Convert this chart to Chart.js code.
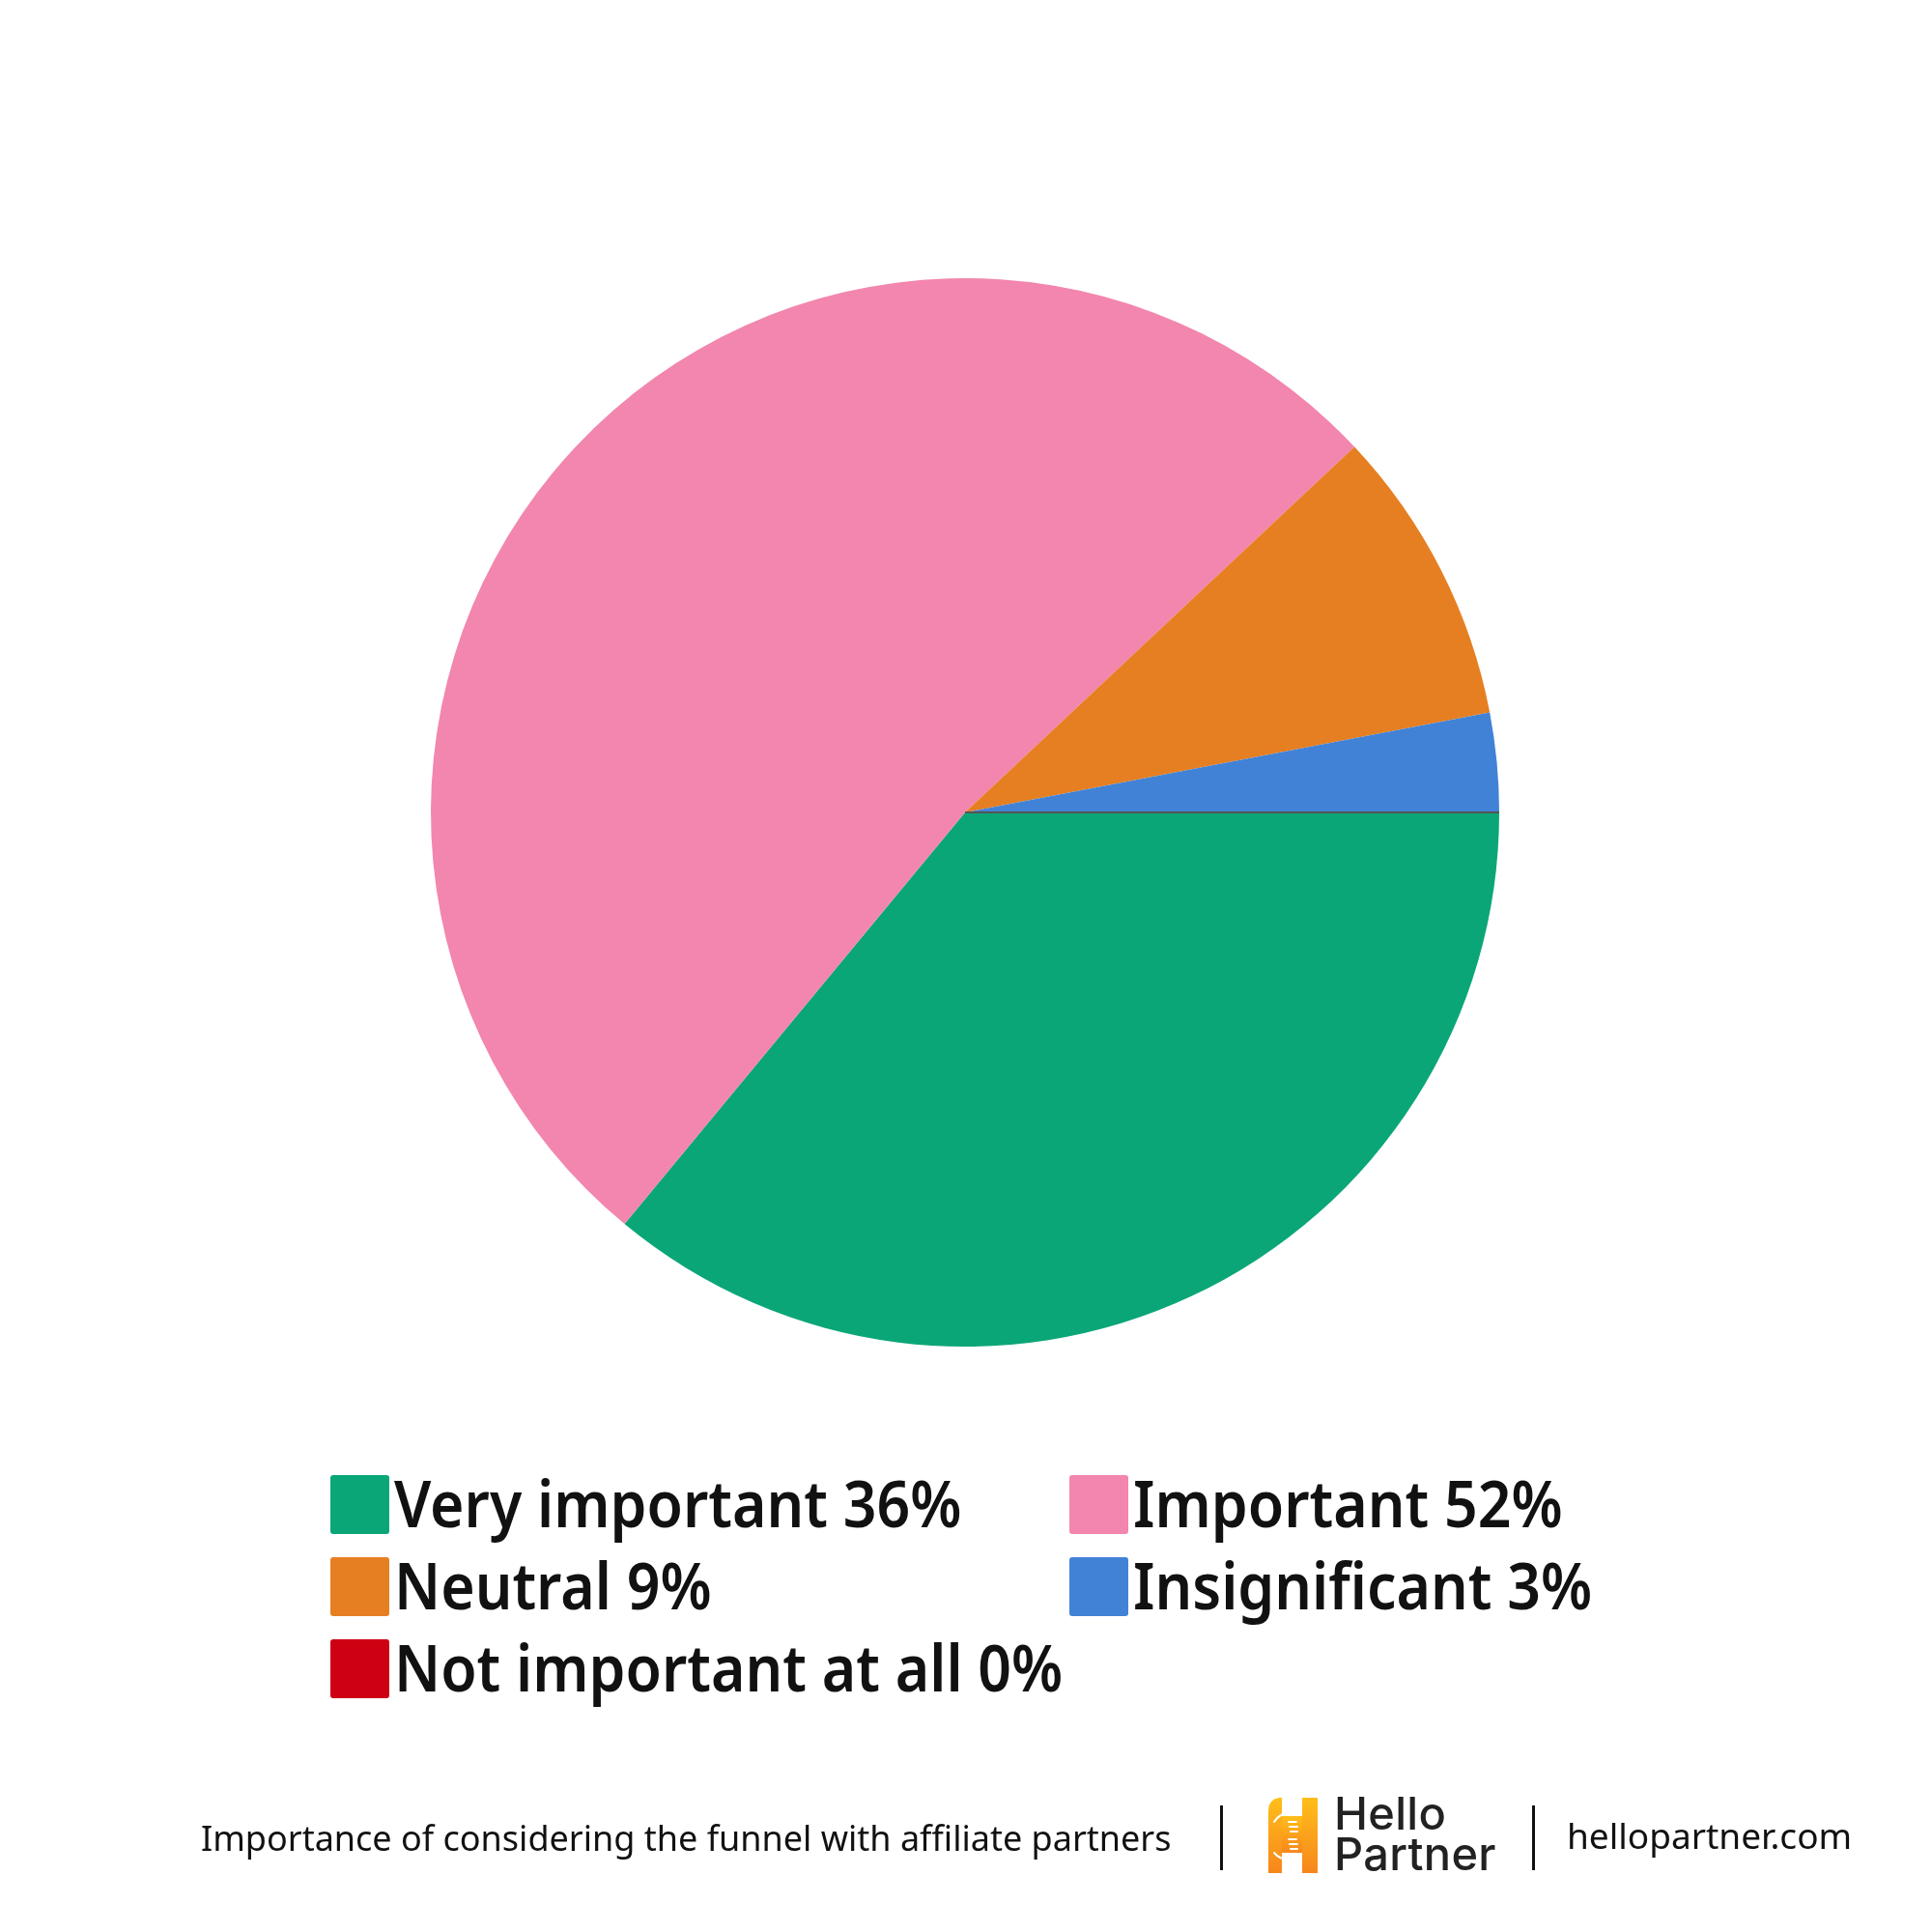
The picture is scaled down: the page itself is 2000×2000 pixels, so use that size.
<!DOCTYPE html>
<html>
<head>
<meta charset="utf-8">
<script src="https://cdn.jsdelivr.net/npm/chart.js@4.4.1/dist/chart.umd.min.js"></script>
<style>
  html, body { margin: 0; padding: 0; background: #fff; }
  #wrap { position: relative; width: 2000px; height: 2000px; overflow: hidden; }
  #pie { position: absolute; left: 0; top: 0; }
  .leg { position: absolute; display: flex; align-items: center; height: 61px;
         font-family: "Noto Sans", sans-serif; font-weight: 600; font-size: 66px;
         color: #111; white-space: nowrap; }
  .leg .box { width: 61px; height: 61px; border-radius: 3px; margin-right: 5px; flex: none; }
  .leg span { display: inline-block; line-height: 61px; position: relative; top: -2px;
              transform: scaleX(0.92); transform-origin: 0 50%; }
  .foot { position: absolute; font-family: "Noto Sans", sans-serif; color: #111; white-space: nowrap; }
  .bar { position: absolute; width: 3px; background: #111; }
</style>
</head>
<body>
<div id="wrap">
  <canvas id="pie" width="2000" height="2000"></canvas>
  <div id="legend"></div>

  <div class="foot" style="left:208px; top:1873px; font-size:36px; line-height:60px;">Importance of considering the funnel with affiliate partners</div>
  <div class="bar" style="left:1263px; top:1869px; height:67px;"></div>
  <svg style="position:absolute; left:1310px; top:1860px;" width="56" height="80" viewBox="0 0 56 80">
    <defs>
      <linearGradient id="lg" x1="0" y1="0" x2="0" y2="1">
        <stop offset="0" stop-color="#FFBE1A"/>
        <stop offset="1" stop-color="#F7861C"/>
      </linearGradient>
    </defs>
    <path d="M14 1 L17 1 L17 79 L3 79 L3 14 Q3 3 14 1 Z" fill="url(#lg)"/>
    <rect x="38" y="1" width="16" height="78" fill="url(#lg)"/>
    <rect x="17" y="20" width="21" height="38" fill="url(#lg)"/>
    <g stroke="#fff" stroke-width="2" stroke-linecap="round" fill="none">
      <path d="M9 26 Q14 18 24 16"/>
      <path d="M24 26 L32 26 M25 31 L33 31 M26 36 L33 36"/>
      <path d="M24 44 L32 44 M25 49 L33 49 M26 54 L33 54"/>
      <path d="M9 58 Q14 64 24 66"/>
    </g>
  </svg>
  <div class="foot" style="left:1381px; top:1856px; font-family:Inter, sans-serif; font-weight:500; font-size:47px; letter-spacing:0.3px; line-height:42px; color:#222;">Hello<br>Partner</div>
  <div class="bar" style="left:1586px; top:1869px; height:67px;"></div>
  <div class="foot" style="left:1622px; top:1870px; font-size:37px; line-height:60px;">hellopartner.com</div>
</div>

<script>
'use strict';

const LABELS = ['Very important', 'Important', 'Neutral', 'Insignificant', 'Not important at all'];
const VALUES = [36, 52, 9, 3, 0];
const COLORS = ['#0BA678', '#F286AE', '#E67F22', '#4182D6', '#CE0014'];

// legend positions: two columns, rows filled left to right
const LEG_COLS = [342, 1107];
const LEG_TOP = 1527, LEG_STEP = 85;

// thin separator where a zero-sized slice sits
const zeroSliceLine = {
  id: 'zeroSliceLine',
  afterDatasetsDraw(chart) {
    const ctx = chart.ctx;
    chart.getDatasetMeta(0).data.forEach(arc => {
      if (arc.circumference !== 0) return;
      ctx.save();
      ctx.strokeStyle = '#555';
      ctx.lineWidth = 2;
      ctx.beginPath();
      ctx.moveTo(arc.x, arc.y);
      ctx.lineTo(arc.x + Math.cos(arc.startAngle) * arc.outerRadius,
                 arc.y + Math.sin(arc.startAngle) * arc.outerRadius);
      ctx.stroke();
      ctx.restore();
    });
  },
};

const chart = new Chart(document.getElementById('pie'), {
  type: 'pie',
  data: {
    labels: LABELS,
    datasets: [{ data: VALUES, backgroundColor: COLORS, borderWidth: 0 }],
  },
  options: {
    responsive: false,
    animation: false,
    rotation: 90,
    layout: { padding: { left: 446, right: 448, top: 288, bottom: 606 } },
    plugins: { legend: { display: false }, tooltip: { enabled: false } },
  },
  plugins: [zeroSliceLine],
});

// html legend built from the chart data
const leg = document.getElementById('legend');
LABELS.forEach((lab, i) => {
  const d = document.createElement('div');
  d.className = 'leg';
  d.style.left = LEG_COLS[i % 2] + 'px';
  d.style.top = (LEG_TOP + Math.floor(i / 2) * LEG_STEP) + 'px';
  d.innerHTML = `<div class="box" style="background:${COLORS[i]}"></div><span>${lab} ${VALUES[i]}%</span>`;
  leg.appendChild(d);
});
</script>
</body>
</html>
